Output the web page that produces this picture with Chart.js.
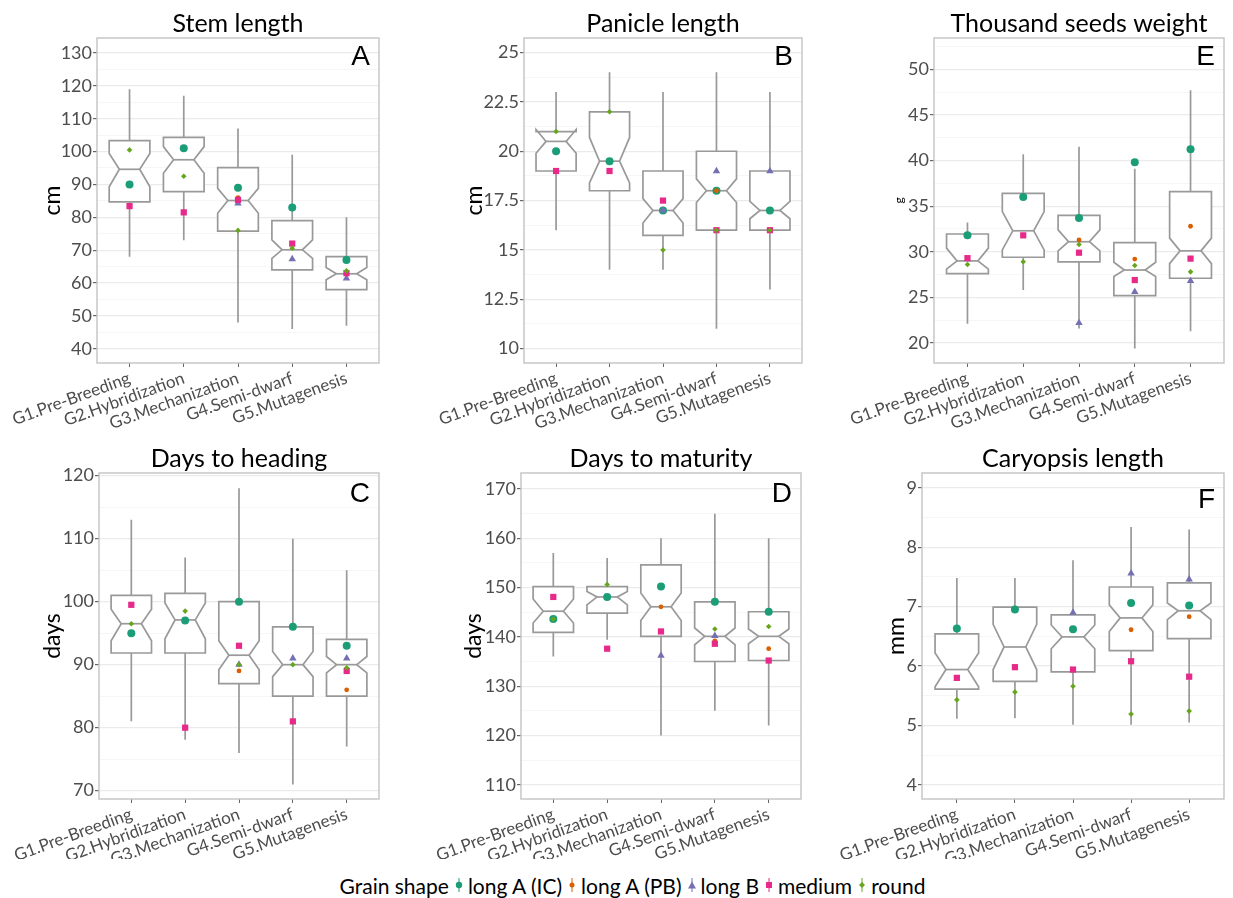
<!DOCTYPE html>
<html>
<head>
<meta charset="utf-8">
<script src="https://cdn.jsdelivr.net/npm/chart.js@4.4.1/dist/chart.umd.min.js"></script>
<style>
  body { margin: 0; background: #fff; width: 1233px; height: 898px; overflow: hidden; position: relative; font-family: Lato, sans-serif; }
  canvas { position: absolute; }
  #legend { position: absolute; left: 16px; top: 873px; width: 1233px; height: 24px; display: flex; justify-content: center; align-items: center; font-size: 21px; color: #000; white-space: nowrap; }
  #legend svg { margin: 0 4px 0 5px; }
</style>
</head>
<body>
<canvas id="stem" width="411" height="440" style="left:0;top:0"></canvas>
<canvas id="panicle" width="411" height="440" style="left:411px;top:0"></canvas>
<canvas id="seeds" width="411" height="440" style="left:822px;top:0"></canvas>
<canvas id="heading" width="411" height="420" style="left:0;top:440px"></canvas>
<canvas id="maturity" width="411" height="420" style="left:411px;top:440px"></canvas>
<canvas id="caryopsis" width="411" height="420" style="left:822px;top:440px"></canvas>
<div id="legend"></div>

<script>
const groups = ['G1.Pre-Breeding', 'G2.Hybridization', 'G3.Mechanization', 'G4.Semi-dwarf', 'G5.Mutagenesis'];
const shapes = ['long A (IC)', 'long A (PB)', 'long B', 'medium', 'round'];
const shapeColors = ['#1B9E77', '#D95F02', '#7570B3', '#E7298A', '#66A61E'];

// box stats per group: [whisker low, Q1, notch low, median, notch high, Q3, whisker high]
// points per grain shape (same order as shapes), one value per group

const stemStats = [
  [68, 84.7, 89.3, 94.6, 99.4, 103.3, 119],
  [73, 87.8, 93.4, 97.5, 101.5, 104.3, 117],
  [48, 75.8, 81.2, 85.1, 88.8, 95.1, 107],
  [46, 64, 67.5, 70.1, 73.1, 79, 99],
  [47, 58, 61, 62.8, 64.7, 68, 80]
];
const stemPoints = [
  [90, 101, 89, 83, 67],
  [null, null, 86, null, null],
  [null, null, 84.2, 67.3, 61.4],
  [83.4, 81.5, 85.3, 72, 63],
  [100.5, 92.5, 76, 70.6, 63.7]
];
const stemTicks = [40, 50, 60, 70, 80, 90, 100, 110, 120, 130];

const panicleStats = [
  [16, 19, 19.9, 20.5, 21.1, 21, 23],
  [14, 18, 18.4, 19.5, 20.7, 22, 24],
  [14, 15.74, 16.36, 17, 17.6, 19, 23],
  [11, 16, 17.4, 18, 18.6, 20, 24],
  [13, 16, 16.58, 17, 17.46, 19, 23]
];
const paniclePoints = [
  [20, 19.5, 17, 18, 17],
  [null, null, null, 18, null],
  [null, null, 17, 19, 19],
  [19, 19, 17.5, 16, 16],
  [21, 22, 15, 16, 16]
];
const panicleTicks = [10, 12.5, 15, 17.5, 20, 22.5, 25];

const seedStats = [
  [22.1, 27.6, 28.1, 29.0, 30.4, 31.95, 33.2],
  [25.8, 29.4, 30.2, 32.3, 34.4, 36.4, 40.7],
  [21.6, 28.9, 30.1, 31.1, 32.4, 34.0, 41.5],
  [19.4, 25.2, 27.3, 28.0, 28.85, 31.0, 39.1],
  [21.3, 27.1, 28.7, 30.1, 31.5, 36.6, 47.7]
];
const seedPoints = [
  [31.8, 36, 33.7, 39.8, 41.25],
  [null, null, 31.3, 29.2, 32.8],
  [null, null, 22.2, 25.6, 26.8],
  [29.3, 31.8, 29.9, 26.9, 29.25],
  [28.6, 28.9, 30.8, 28.5, 27.8]
];
const seedTicks = [20, 25, 30, 35, 40, 45, 50];

const headingStats = [
  [81, 91.85, 93.8, 96.5, 98.8, 101, 113],
  [78.1, 91.85, 94.1, 97.1, 99.8, 101.3, 107],
  [76, 87, 89.2, 91.5, 93.8, 100, 118],
  [71, 85, 88.1, 90, 92.1, 96, 110],
  [77, 85, 88.7, 90, 91.3, 94, 105]
];
const headingPoints = [
  [95, 97, 100, 96, 93],
  [null, null, 89, null, 86],
  [null, null, 90, 91, 91],
  [99.5, 80, 93, 81, 89],
  [96.5, 98.5, 90, 90, 89.5]
];
const headingTicks = [70, 80, 90, 100, 110, 120];

const maturityStats = [
  [136, 140.9, 142.8, 145.2, 147.7, 150.2, 157],
  [139.4, 144.8, 146.5, 148.1, 149.2, 150.2, 156],
  [120, 140.1, 143.3, 146.1, 148.9, 154.6, 160],
  [125, 135, 138.4, 140.1, 141.8, 147.1, 165],
  [122, 135.2, 138.6, 140.1, 141.6, 145.1, 160]
];
const maturityPoints = [
  [143.6, 148.1, 150.2, 147.1, 145.1],
  [null, null, 146.1, 139.2, 137.6],
  [null, null, 136.2, 140.2, null],
  [148.1, 137.6, 141.1, 138.6, 135.2],
  [143.6, 150.6, null, 141.6, 142.1]
];
const maturityTicks = [110, 120, 130, 140, 150, 160, 170];

const caryopsisStats = [
  [5.11, 5.61, 5.65, 5.94, 6.22, 6.54, 7.48],
  [5.12, 5.74, 5.94, 6.32, 6.7, 6.99, 7.48],
  [5.01, 5.9, 6.29, 6.49, 6.69, 6.86, 7.78],
  [5.01, 6.26, 6.58, 6.81, 7.03, 7.33, 8.34],
  [5.05, 6.46, 6.78, 6.93, 7.06, 7.4, 8.3]
];
const caryopsisPoints = [
  [6.63, 6.95, 6.62, 7.06, 7.02],
  [null, null, null, 6.61, 6.83],
  [null, null, 6.9, 7.56, 7.46],
  [5.8, 5.98, 5.94, 6.08, 5.82],
  [5.43, 5.56, 5.66, 5.19, 5.24]
];
const caryopsisTicks = [4, 5, 6, 7, 8, 9];

const pointStyles = ['circle', 'circle', 'triangle', 'rect', 'rectRot'];
const pointRadii = [4, 2.4, 4.3, 4.4, 2.8];

Chart.defaults.font.family = 'Lato, sans-serif';

// notched boxes + whiskers, drawn under the points through the chart scales
function notchBoxes(stats) {
  return {
    id: 'notchBoxes',
    beforeDatasetsDraw(chart) {
      const { ctx, scales: { x, y } } = chart;
      const py = v => y.getPixelForValue(v);
      ctx.save();
      ctx.strokeStyle = '#999';
      ctx.lineWidth = 1.7;
      ctx.fillStyle = '#fff';
      stats.forEach((s, i) => {
        const [lo, q1, nlo, med, nhi, q3, hi] = s;
        const xc = x.getPixelForValue(i + 1);
        const xl = x.getPixelForValue(i + 1 - 0.375);
        const xr = x.getPixelForValue(i + 1 + 0.375);
        const ins = (xr - xl) * 0.25;
        ctx.beginPath();
        ctx.moveTo(xc, py(hi)); ctx.lineTo(xc, py(q3));
        ctx.moveTo(xc, py(q1)); ctx.lineTo(xc, py(lo));
        ctx.stroke();
        ctx.beginPath();
        ctx.moveTo(xl, py(q3));
        ctx.lineTo(xl, py(nhi));
        ctx.lineTo(xl + ins, py(med));
        ctx.lineTo(xl, py(nlo));
        ctx.lineTo(xl, py(q1));
        ctx.lineTo(xr, py(q1));
        ctx.lineTo(xr, py(nlo));
        ctx.lineTo(xr - ins, py(med));
        ctx.lineTo(xr, py(nhi));
        ctx.lineTo(xr, py(q3));
        ctx.closePath();
        ctx.fill();
        ctx.stroke();
        ctx.beginPath();
        ctx.moveTo(xl + ins, py(med)); ctx.lineTo(xr - ins, py(med));
        ctx.stroke();
      });
      ctx.restore();
    }
  };
}

// panel frame, title above and the panel letter
function decor(title, letter, letterDy) {
  return {
    id: 'decor',
    afterDraw(chart) {
      const { ctx, chartArea: a } = chart;
      ctx.save();
      ctx.strokeStyle = '#c3c3c3';
      ctx.lineWidth = 1.4;
      ctx.strokeRect(a.left, a.top, a.right - a.left, a.bottom - a.top);
      ctx.fillStyle = '#000';
      ctx.textBaseline = 'alphabetic';
      ctx.textAlign = 'center';
      ctx.font = '25px Lato';
      ctx.fillText(title, (a.left + a.right) / 2, a.top - 6.5);
      ctx.textAlign = 'right';
      ctx.font = '28px "Liberation Sans"';
      ctx.fillText(letter, a.right - 9, a.top + letterDy);
      ctx.restore();
    }
  };
}

function makePanel(p) {
  const minor = [];
  for (let i = 0; i < p.ticks.length - 1; i++) minor.push((p.ticks[i] + p.ticks[i + 1]) / 2);
  const step = p.ticks[1] - p.ticks[0];
  const before = p.ticks[0] - step / 2, after = p.ticks[p.ticks.length - 1] + step / 2;
  if (before > p.min) minor.push(before);
  if (after < p.max) minor.push(after);
  const allTicks = p.ticks.concat(minor).sort((a, b) => a - b);
  const isMajor = v => p.ticks.includes(v);

  const datasets = shapes.map((name, k) => ({
    label: name,
    data: groups.map((g, i) => p.points[k][i] == null ? null : { x: i + 1, y: p.points[k][i] }).filter(Boolean),
    backgroundColor: shapeColors[k],
    borderWidth: 0,
    pointStyle: pointStyles[k],
    pointRadius: pointRadii[k],
    order: shapes.length - k
  }));

  const cw = p.canvasW, ch = p.canvasH;
  const yW = p.L - p.cx - p.pl;
  const xH = ch - (p.B - p.cy) - 1;

  new Chart(document.getElementById(p.id), {
    type: 'scatter',
    data: { datasets },
    options: {
      responsive: false,
      maintainAspectRatio: false,
      devicePixelRatio: 1,
      animation: false,
      events: [],
      layout: { padding: { left: p.pl, right: p.cx + cw - p.R, top: p.T - p.cy, bottom: 1 } },
      plugins: { legend: { display: false }, tooltip: { enabled: false } },
      scales: {
        x: {
          type: 'linear', min: 0.4, max: 5.6,
          afterBuildTicks: s => { s.ticks = groups.map((g, i) => ({ value: i + 1 })); },
          afterFit: s => { s.height = xH; },
          ticks: { callback: v => groups[v - 1], autoSkip: false, minRotation: 20, maxRotation: 20, color: '#4d4d4d', font: { size: 17 }, padding: 1 },
          grid: { drawOnChartArea: false, drawTicks: true, tickLength: 4, tickColor: '#666' },
          border: { display: false }
        },
        y: {
          type: 'linear', min: p.min, max: p.max,
          afterBuildTicks: s => { s.ticks = allTicks.map(v => ({ value: v })); },
          afterFit: s => { s.width = yW; },
          ticks: { callback: v => isMajor(v) ? String(v) : '', autoSkip: false, color: '#4d4d4d', font: { size: 18 }, padding: 1 },
          grid: {
            color: c => isMajor(c.tick.value) ? '#ebebeb' : '#f4f4f4',
            lineWidth: c => isMajor(c.tick.value) ? 1.2 : 0.8,
            tickLength: 4,
            tickColor: c => isMajor(c.tick.value) ? '#666' : 'rgba(0,0,0,0)'
          },
          border: { display: false },
          title: { display: true, text: p.unit, color: '#000', font: { size: p.unitSize }, padding: { top: 4, bottom: 0 } }
        }
      }
    },
    plugins: [notchBoxes(p.stats), decor(p.title, p.letter, p.letterDy)]
  });
}

const panels = [
  { id: 'stem', title: 'Stem length', letter: 'A', unit: 'cm', unitSize: 23, stats: stemStats, points: stemPoints, ticks: stemTicks,
    min: 35.65, max: 134.56, cx: 0, cy: 0, canvasW: 411, canvasH: 440, L: 97, R: 379, T: 38, B: 363, pl: 35, letterDy: 27 },
  { id: 'panicle', title: 'Panicle length', letter: 'B', unit: 'cm', unitSize: 23, stats: panicleStats, points: paniclePoints, ticks: panicleTicks,
    min: 9.27, max: 25.74, cx: 411, cy: 0, canvasW: 411, canvasH: 440, L: 524, R: 802, T: 38, B: 363, pl: 46, letterDy: 27 },
  { id: 'seeds', title: 'Thousand seeds weight', letter: 'E', unit: 'g', unitSize: 12, stats: seedStats, points: seedPoints, ticks: seedTicks,
    min: 17.81, max: 53.43, cx: 822, cy: 0, canvasW: 411, canvasH: 440, L: 934, R: 1224, T: 38, B: 363, pl: 66, letterDy: 27 },
  { id: 'heading', title: 'Days to heading', letter: 'C', unit: 'days', unitSize: 23, stats: headingStats, points: headingPoints, ticks: headingTicks,
    min: 68.68, max: 120.42, cx: 0, cy: 440, canvasW: 411, canvasH: 420, L: 99, R: 379, T: 473, B: 799, pl: 35, letterDy: 29 },
  { id: 'maturity', title: 'Days to maturity', letter: 'D', unit: 'days', unitSize: 23, stats: maturityStats, points: maturityPoints, ticks: maturityTicks,
    min: 107.1, max: 173.25, cx: 411, cy: 440, canvasW: 411, canvasH: 420, L: 521, R: 801, T: 473, B: 799, pl: 45, letterDy: 29 },
  { id: 'caryopsis', title: 'Caryopsis length', letter: 'F', unit: 'mm', unitSize: 23, stats: caryopsisStats, points: caryopsisPoints, ticks: caryopsisTicks,
    min: 3.76, max: 9.25, cx: 822, cy: 440, canvasW: 411, canvasH: 420, L: 922, R: 1224, T: 473, B: 799, pl: 57, letterDy: 35 }
];
panels.forEach(makePanel);

// legend row
const keyShape = (k, c) => {
  if (k === 2) return `<polygon points="5,5.5 9,12.5 1,12.5" fill="${c}"/>`;
  if (k === 3) return `<rect x="2" y="6" width="6" height="6" fill="${c}"/>`;
  if (k === 4) return `<polygon points="5,6 8,9 5,12 2,9" fill="${c}"/>`;
  return `<circle cx="5" cy="9" r="${k === 0 ? 3.2 : 2.5}" fill="${c}"/>`;
};
document.getElementById('legend').innerHTML = '<span>Grain shape</span>' + shapes.map((s, k) =>
  `<svg width="10" height="18"><line x1="5" y1="2" x2="5" y2="16" stroke="${shapeColors[k]}" stroke-width="1"/>${keyShape(k, shapeColors[k])}</svg><span>${s}</span>`
).join('');
</script>
</body>
</html>
